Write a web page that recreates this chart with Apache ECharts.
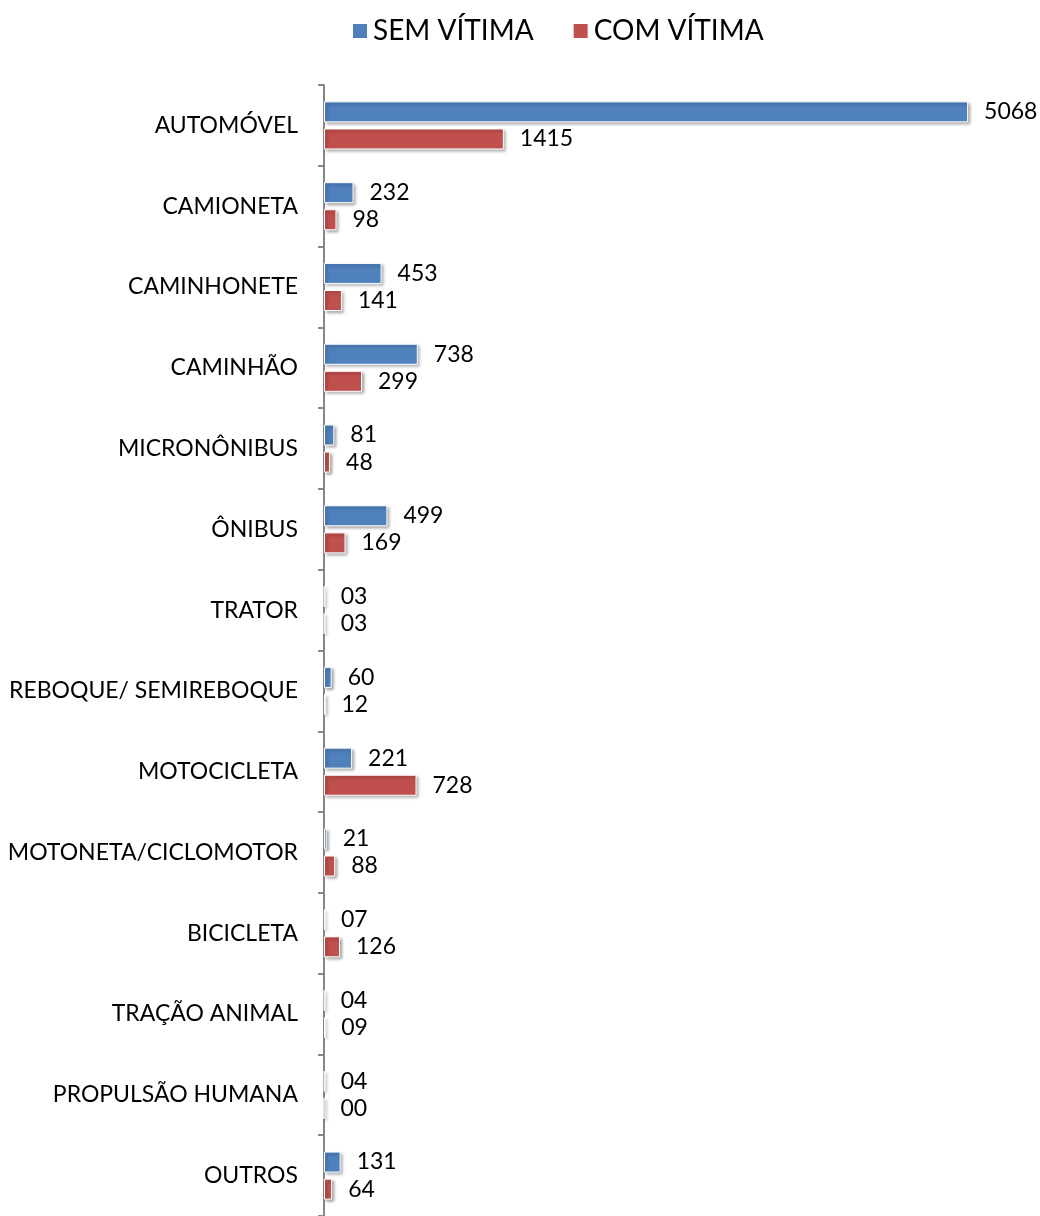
<!DOCTYPE html>
<html>
<head>
<meta charset="utf-8">
<script src="https://cdn.jsdelivr.net/npm/echarts@6/dist/echarts.min.js"></script>
<style>
  html, body { margin: 0; padding: 0; background: #fff; }
  #chart { width: 1040px; height: 1216px; }
</style>
</head>
<body>
<div id="chart"></div>
<script>
var categories = ['AUTOMÓVEL', 'CAMIONETA', 'CAMINHONETE', 'CAMINHÃO', 'MICRONÔNIBUS', 'ÔNIBUS', 'TRATOR',
  'REBOQUE/ SEMIREBOQUE', 'MOTOCICLETA', 'MOTONETA/CICLOMOTOR', 'BICICLETA', 'TRAÇÃO ANIMAL',
  'PROPULSÃO HUMANA', 'OUTROS']
var semVitima = [5068, 232, 453, 738, 81, 499, 3, 60, 221, 21, 7, 4, 4, 131]
var comVitima = [1415, 98, 141, 299, 48, 169, 3, 12, 728, 88, 126, 9, 0, 64]

var font = 'Lato'

// two-digit labels like the original (03, 07, 00)
function pad (p) {
  return p.value < 10 ? '0' + p.value : String(p.value)
}

function barSeries (name, data, color) {
  return {
    name: name,
    type: 'bar',
    data: data,
    barWidth: 21,
    barGap: '29%',
    itemStyle: {
      color: color,
      borderColor: '#fff',
      borderWidth: 1,
      shadowColor: 'rgba(0,0,0,0.35)',
      shadowBlur: 3,
      shadowOffsetX: 2,
      shadowOffsetY: 2
    },
    label: {
      show: true,
      position: 'right',
      distance: 16,
      formatter: pad,
      color: '#000',
      fontFamily: font,
      fontSize: 23
    }
  }
}

var chart = echarts.init(document.getElementById('chart'))
chart.setOption({
  animation: false,
  legend: {
    top: 12,
    left: 346,
    itemWidth: 16,
    itemHeight: 16,
    itemGap: 38,
    icon: 'rect',
    textStyle: { fontFamily: font, fontSize: 28, color: '#000' },
    data: ['SEM VÍTIMA', 'COM VÍTIMA']
  },
  grid: {
    left: 324,
    right: 17,
    top: 85,
    bottom: -5
  },
  xAxis: {
    type: 'value',
    min: 0,
    max: 5500,
    show: false
  },
  yAxis: {
    type: 'category',
    inverse: true,
    data: categories,
    axisLine: { show: true, lineStyle: { color: '#868686', width: 2 } },
    axisTick: { show: true, length: 6, lineStyle: { color: '#868686', width: 2 } },
    axisLabel: { margin: 26, color: '#000', fontFamily: font, fontSize: 23 }
  },
  series: [
    barSeries('SEM VÍTIMA', semVitima, '#4f81bd'),
    barSeries('COM VÍTIMA', comVitima, '#c0504d')
  ]
})
</script>
</body>
</html>
